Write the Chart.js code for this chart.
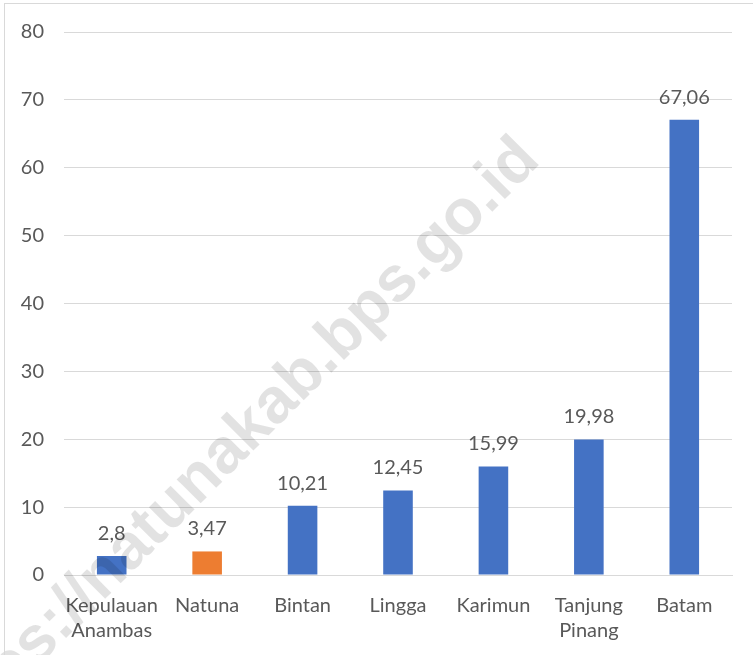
<!DOCTYPE html>
<html>
<head>
<meta charset="utf-8">
<script src="https://cdn.jsdelivr.net/npm/chart.js@4/dist/chart.umd.min.js"></script>
<style>
    html, body { margin: 0; padding: 0; background: #fff; overflow: hidden; }
    #wrap { position: relative; width: 753px; height: 655px; }
    #frame { position: absolute; left: 4px; top: 3px; width: 800px; height: 700px; border: 1px solid #d9d9d9; box-sizing: border-box; pointer-events: none; }
</style>
</head>
<body>
<div id="wrap">
    <canvas id="kabChart" width="753" height="655"></canvas>
    <div id="frame"></div>
</div>
<script>
const labels = [["Kepulauan", "Anambas"], "Natuna", "Bintan", "Lingga", "Karimun", ["Tanjung", "Pinang"], "Batam"];
const values = [2.8, 3.47, 10.21, 12.45, 15.99, 19.98, 67.06];
const barColors = ["#4472C4", "#ED7D31", "#4472C4", "#4472C4", "#4472C4", "#4472C4", "#4472C4"];
const yTicks = [0, 10, 20, 30, 40, 50, 60, 70, 80];

const FONT = "Lato";
const TEXT_COLOR = "#595959";

// labels above each bar, comma decimals
const valueLabels = {
    id: "valueLabels",
    afterDatasetsDraw(chart) {
        const ctx = chart.ctx;
        const meta = chart.getDatasetMeta(0);
        ctx.save();
        ctx.font = "20px " + FONT;
        ctx.fillStyle = TEXT_COLOR;
        ctx.textAlign = "center";
        ctx.textBaseline = "alphabetic";
        meta.data.forEach(function (bar, i) {
            const txt = String(values[i]).replace(".", ",");
            ctx.fillText(txt, bar.x, bar.y - 16);
        });
        ctx.restore();
    }
};

// diagonal site watermark
const watermark = {
    id: "watermark",
    afterDraw(chart) {
        const ctx = chart.ctx;
        ctx.save();
        ctx.translate(542, 162);
        ctx.rotate(-Math.PI / 4);
        ctx.font = "bold 64px 'Liberation Sans', Arial, sans-serif";
        ctx.fillStyle = "rgba(0,0,0,0.115)";
        ctx.textAlign = "right";
        ctx.textBaseline = "alphabetic";
        ctx.fillText("https://natunakab.bps.go.id", 0, 0);
        ctx.restore();
    }
};

const ctx = document.getElementById("kabChart");
new Chart(ctx.getContext("2d"), {
    type: "bar",
    data: {
        labels: labels,
        datasets: [{
            data: values,
            backgroundColor: barColors,
            borderWidth: 0,
            barPercentage: 0.31,
            categoryPercentage: 1
        }]
    },
    options: {
        responsive: false,
        animation: false,
        layout: { padding: { left: 0, right: 21, top: 30, bottom: 0 } },
        plugins: {
            legend: { display: false },
            tooltip: { enabled: false }
        },
        scales: {
            x: {
                grid: { display: false, drawTicks: false },
                border: { color: "#d9d9d9", width: 1 },
                ticks: {
                    color: TEXT_COLOR,
                    font: { family: FONT, size: 20, lineHeight: 1.25 },
                    padding: 18,
                    maxRotation: 0,
                    autoSkip: false
                },
                afterFit(axis) { axis.height = 80; }
            },
            y: {
                min: 0,
                max: 80,
                afterBuildTicks(axis) { axis.ticks = yTicks.map(v => ({ value: v })); },
                grid: { color: "#d9d9d9", lineWidth: 1, drawTicks: false },
                border: { display: false },
                ticks: {
                    color: TEXT_COLOR,
                    font: { family: FONT, size: 20 },
                    padding: 20
                },
                afterFit(axis) { axis.width = 64; }
            }
        }
    },
    plugins: [valueLabels, watermark]
});
</script>
</body>
</html>
